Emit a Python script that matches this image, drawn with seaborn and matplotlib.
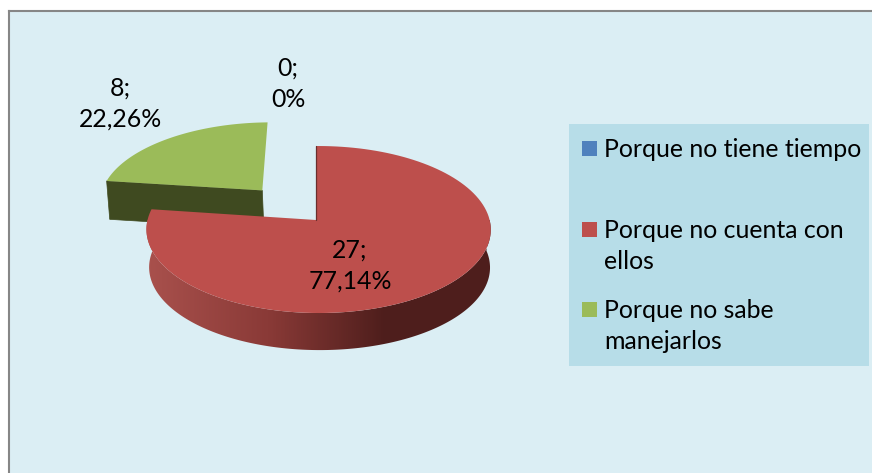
import numpy as np
import matplotlib
matplotlib.use("Agg")
import matplotlib.pyplot as plt
import seaborn as sns
from matplotlib.patches import Polygon, Rectangle
from matplotlib.path import Path
from matplotlib.transforms import Affine2D, IdentityTransform, Transform

categorias = ["Porque no tiene tiempo", "Porque no cuenta con\nellos", "Porque no sabe\nmanejarlos"]
valores = [0, 27, 8]
porcentajes = ["0%", "77,14%", "22,26%"]
colores = ["#4F81BD", "#BD4F4C", "#9BBB59"]
separacion = [0, 0, 0.5]

ANCHO, ALTO = 872, 473
FONDO = "#DBEEF4"

sns.set_theme(style="white", rc={"axes.edgecolor": "#868686", "axes.linewidth": 1.5})
plt.rcParams["font.family"] = ["Lato", "DejaVu Sans"]


# pie en perspectiva: pasa del circulo unidad a pixeles de la imagen
class Perspectiva(Transform):
    input_dims = 2
    output_dims = 2

    def __init__(self, escala=1.0, dx=0.0, dy=0.0):
        super().__init__()
        self.escala = escala
        self.dx = dx
        self.dy = dy

    def transform_non_affine(self, values):
        values = np.asarray(values, dtype=float)
        w = 1 + 0.114 * values[:, 1] - 0.015 * values[:, 0]
        px = 316 + self.dx + 171 * self.escala * values[:, 0] / w
        py = 220 + self.dy - 82.4 * self.escala * values[:, 1] / w
        return np.column_stack([px, ALTO - py])

    def transform_path_non_affine(self, path):
        # aplanar las curvas antes, si no el arco se deforma
        grande = path.transformed(Affine2D().scale(1000))
        pts = grande.to_polygons(closed_only=False)[0] / 1000
        return Path(self.transform_non_affine(pts))


arriba = Perspectiva()
abajo = Perspectiva(0.99, 1, 38)
pixel = Affine2D().scale(1, -1).translate(0, ALTO)

fig = plt.figure(figsize=(ANCHO / 100, ALTO / 100), dpi=100, facecolor="white")
ax = fig.add_axes([9 / ANCHO, 0, (ANCHO - 9) / ANCHO, (ALTO - 11) / ALTO])

wedges, _ = ax.pie(valores, explode=separacion, colors=colores, startangle=90,
                   counterclock=False, wedgeprops={"linewidth": 0})
ax.set_frame_on(True)
ax.set_facecolor(FONDO)
sns.despine(ax=ax, top=False, left=False, right=True, bottom=True)

for w in wedges:
    w.set_transform(arriba)
    w.set_clip_on(False)
wedges[0].set_visible(False)
wedges[1].set_zorder(5)
wedges[2].set_zorder(2)


def punto(w, theta):
    t = np.radians(theta)
    return np.column_stack([w.center[0] + np.cos(t), w.center[1] + np.sin(t)])


# pared lateral del trozo verde
v = wedges[2]
a0 = np.array([v.center])
a1 = punto(v, v.theta2)
pared = np.vstack([arriba.transform(a0), arriba.transform(a1), abajo.transform(a1), abajo.transform(a0)])
ax.add_patch(Polygon(pared, closed=True, facecolor="#3F4A20", edgecolor="#3F4A20", lw=0.5,
                     transform=IdentityTransform(), zorder=1))

# borde del trozo rojo (solo la parte de delante), degradado recortado con su contorno
r = wedges[1]
thetas = np.linspace(r.theta1, 5, 300)
sup = arriba.transform(punto(r, thetas))
inf = abajo.transform(punto(r, thetas))
cmap = sns.blend_palette(["#A8504C", "#8A3A37", "#4E1E1C"], as_cmap=True)
grad = np.clip((np.arange(140, 500) - 150) / (385 - 150), 0, 1)[None, :]
im = ax.imshow(grad, cmap=cmap, extent=(140, 500, 360, 220), transform=pixel, aspect="auto", zorder=4)
contorno = Polygon(np.vstack([sup, inf[::-1]]), closed=True, transform=IdentityTransform())
im.set_clip_path(contorno)
ax.plot([r.center[0], r.center[0]], [r.center[1], r.center[1] + 1], transform=arriba,
        color="#6A2F2D", lw=0.9, zorder=6, clip_on=False)
ax.set_aspect("auto")

# etiquetas de datos
pos_etiquetas = [(288, 84), (350, 266), (120, 104)]
for val, pct, (x, y) in zip(valores, porcentajes, pos_etiquetas):
    ax.text(x, y, f"{val};\n{pct}", transform=pixel, ha="center", va="center",
            fontsize=17.9, color="black", linespacing=1.42, zorder=7)

# leyenda
ax.add_patch(Rectangle((569, 124), 300, 242, transform=pixel, facecolor="#B7DDE8", edgecolor="none", zorder=1))
pos_leyenda = [149, 230, 310]
for cat, col, y in zip(categorias, colores, pos_leyenda):
    ax.add_patch(Rectangle((582, y - 8), 15, 15, transform=pixel, facecolor=col, edgecolor="none", zorder=2))
    ax.text(604, y - 11, cat, transform=pixel, ha="left", va="top", fontsize=17.9,
            color="black", linespacing=1.42, zorder=3)

fig.savefig("out.png", dpi=100)
